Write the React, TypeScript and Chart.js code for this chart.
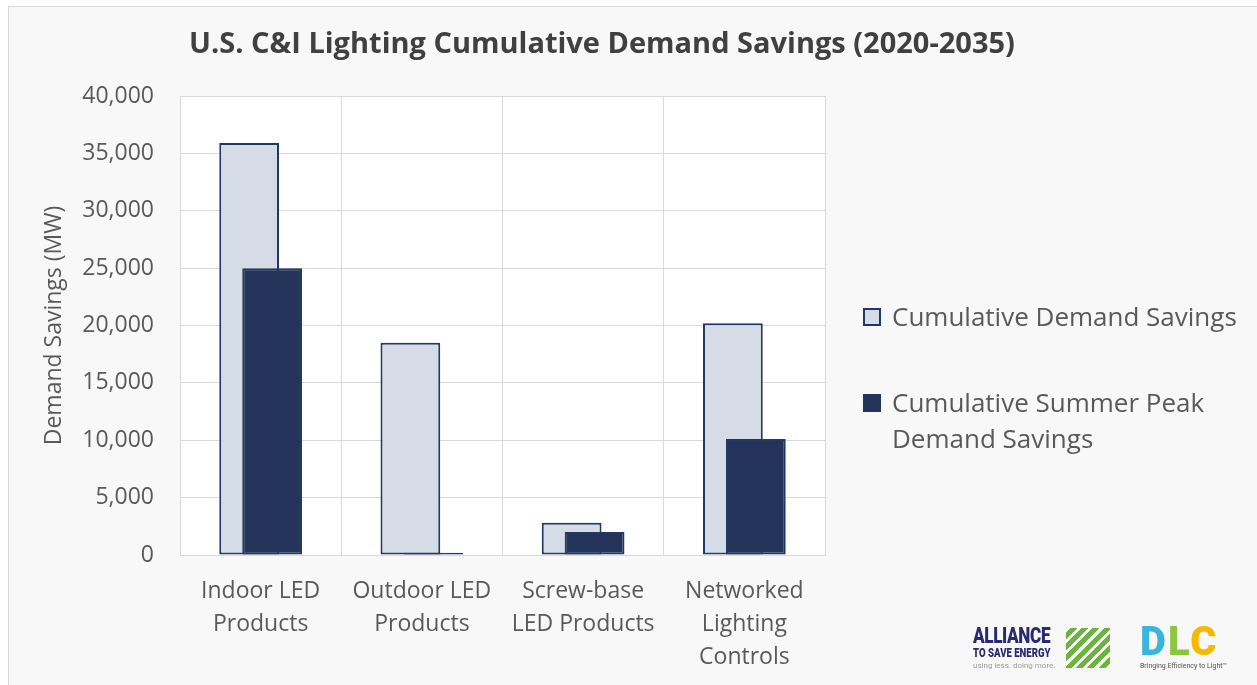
import React, { useEffect, useRef } from "react";
import { Chart, registerables } from "chart.js";

Chart.register(...registerables);

const categories: string[][] = [
  ["Indoor LED", "Products"],
  ["Outdoor LED", "Products"],
  ["Screw-base", "LED Products"],
  ["Networked", "Lighting", "Controls"],
];
const cumulativeDemand: number[] = [35900, 18500, 2800, 20200];
const summerPeakDemand: number[] = [25000, 200, 2000, 10100];
const seriesNames: string[] = ["Cumulative Demand Savings", "Cumulative Summer Peak Demand Savings"];
const yMax = 40000;
const yStep = 5000;

const FONT = "'Open Sans', 'Noto Sans', sans-serif";
const TEXT = "#595959";
const GRID = "#d9d9d9";
const LIGHT = "#d6dce5";
const DARK = "#243359";
const EDGE = "#203864";

const plotBg = {
  id: "plotBg",
  beforeDraw(chart: any) {
    const { ctx, chartArea } = chart;
    ctx.save();
    ctx.fillStyle = "#ffffff";
    ctx.fillRect(chartArea.left, chartArea.top, chartArea.right - chartArea.left, chartArea.bottom - chartArea.top);
    ctx.restore();
  },
};

// Draw the second series on top of the first (Excel-like overlap)
const frontSeries = {
  id: "frontSeries",
  beforeDatasetDraw(chart: any, args: any) {
    if (args.index === 1 && !chart.$drawingFront) return false;
    return true;
  },
  afterDatasetsDraw(chart: any) {
    const meta = chart.getDatasetMeta(1);
    if (!meta || meta.hidden) return;
    chart.$drawingFront = true;
    meta.controller.draw();
    chart.$drawingFront = false;
  },
};

export default function App() {
  const ref = useRef<HTMLCanvasElement | null>(null);

  useEffect(() => {
    document.body.style.margin = "0";
    if (!ref.current) return;
    const chart = new Chart(ref.current, {
      type: "bar",
      data: {
        labels: categories,
        datasets: [
          {
            label: seriesNames[0],
            data: cumulativeDemand,
            backgroundColor: LIGHT,
            borderColor: EDGE,
            borderWidth: 2,
            borderSkipped: false,
          },
          {
            label: seriesNames[1],
            data: summerPeakDemand,
            backgroundColor: DARK,
            borderColor: EDGE,
            borderWidth: 2,
            borderSkipped: false,
          },
        ],
      },
      options: {
        animation: false,
        responsive: false,
        maintainAspectRatio: false,
        devicePixelRatio: 1,
        datasets: { bar: { categoryPercentage: 0.285, barPercentage: 2.6 } },
        layout: { padding: { left: 37, right: 432, top: 96, bottom: 0 } },
        plugins: {
          legend: { display: false },
          title: { display: false },
          tooltip: { enabled: false },
        },
        scales: {
          x: {
            grid: { color: GRID, offset: true, drawTicks: false },
            border: { color: GRID },
            ticks: {
              color: TEXT,
              font: { family: FONT, size: 23, lineHeight: 1.43 },
              padding: 20,
              maxRotation: 0,
              autoSkip: false,
            },
            afterFit: (s: any) => {
              s.height = 130;
            },
          },
          y: {
            min: 0,
            max: yMax,
            grid: { color: GRID, drawTicks: false },
            border: { color: GRID },
            ticks: {
              stepSize: yStep,
              color: TEXT,
              font: { family: FONT, size: 23 },
              padding: 26,
              callback: (v: any) => Number(v).toLocaleString("en-US"),
            },
            title: {
              display: true,
              text: "Demand Savings (MW)",
              color: TEXT,
              font: { family: FONT, size: 23 },
              padding: { top: 4, bottom: 0 },
            },
            afterFit: (s: any) => {
              s.width = 143;
            },
          },
        },
      },
      plugins: [plotBg, frontSeries],
    });
    return () => chart.destroy();
  }, []);

  return (
    <div style={{ position: "absolute", left: 0, top: 0, width: 1257, height: 685, overflow: "hidden", background: "#ffffff", fontFamily: FONT }}>
      <div style={{ position: "absolute", left: 8, top: 6, width: 1260, height: 700, background: "#f8f8f8", border: "1px solid #d9d9d9" }} />
      <canvas ref={ref} width={1257} height={685} style={{ position: "absolute", left: 0, top: 0, width: 1257, height: 685 }} />
      <div style={{ position: "absolute", left: 0, width: 1204, top: 22, textAlign: "center", fontSize: 29, fontWeight: 700, color: "#404040", lineHeight: "40px", whiteSpace: "nowrap" }}>
        U.S. C&amp;I Lighting Cumulative Demand Savings (2020-2035)
      </div>
      <div style={{ position: "absolute", left: 863, top: 298, color: TEXT, fontSize: 26, lineHeight: "36px" }}>
        <div style={{ display: "flex", alignItems: "flex-start" }}>
          <span style={{ display: "inline-block", width: 14, height: 14, marginTop: 10, marginRight: 11, background: LIGHT, border: `2px solid ${EDGE}`, flexShrink: 0 }} />
          <span style={{ whiteSpace: "nowrap" }}>{seriesNames[0]}</span>
        </div>
        <div style={{ display: "flex", alignItems: "flex-start", marginTop: 50 }}>
          <span style={{ display: "inline-block", width: 18, height: 18, marginTop: 10, marginRight: 11, background: DARK, flexShrink: 0 }} />
          <span style={{ width: 330 }}>{seriesNames[1]}</span>
        </div>
      </div>
      <div style={{ position: "absolute", left: 973, top: 625, width: 140, height: 46 }}>
        <div style={{ position: "absolute", left: 0, top: 0, fontFamily: "'Roboto', sans-serif", fontWeight: 900, fontSize: 22, lineHeight: "22px", color: "#2b2a6e", transform: "scaleX(0.78)", transformOrigin: "left top", letterSpacing: -0.5 }}>ALLIANCE</div>
        <div style={{ position: "absolute", left: 0, top: 22, fontFamily: "'Roboto', sans-serif", fontWeight: 900, fontSize: 12, lineHeight: "13px", color: "#2b2a6e", transform: "scaleX(0.8)", transformOrigin: "left top" }}>TO SAVE ENERGY</div>
        <div style={{ position: "absolute", left: 0, top: 36, fontFamily: "'Roboto', sans-serif", fontSize: 8, lineHeight: "9px", color: "#9a9a9a" }}>using less. doing more.</div>
        <div style={{ position: "absolute", left: 93, top: 3, width: 44, height: 40, background: "repeating-linear-gradient(135deg, #ffffff 0px, #ffffff 3px, #6cb33f 3px, #6cb33f 8px)" }} />
      </div>
      <div style={{ position: "absolute", left: 1140, top: 622, width: 110, height: 50 }}>
        <div style={{ position: "absolute", left: 0, top: 0, fontFamily: "'Roboto', sans-serif", fontWeight: 900, fontSize: 40, lineHeight: "40px", letterSpacing: 2 }}>
          <span style={{ color: "#39b6e0" }}>D</span>
          <span style={{ color: "#8cc63f" }}>L</span>
          <span style={{ color: "#f6b800" }}>C</span>
        </div>
        <div style={{ position: "absolute", left: 0, top: 40, fontFamily: "'Roboto', sans-serif", fontSize: 7, lineHeight: "8px", color: "#555555", whiteSpace: "nowrap" }}>Bringing Efficiency to Light™</div>
      </div>
    </div>
  );
}
